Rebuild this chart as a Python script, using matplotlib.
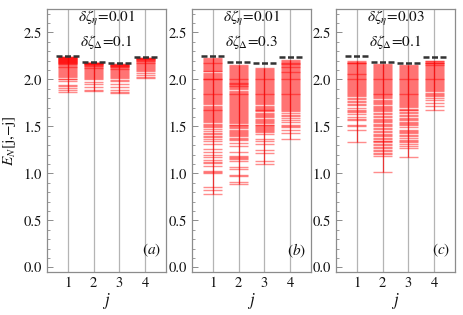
import matplotlib
matplotlib.use("Agg")
import matplotlib.pyplot as plt
from matplotlib.ticker import MultipleLocator

plt.rcParams['font.family'] = ['STIXGeneral', 'DejaVu Serif']
plt.rcParams['mathtext.fontset'] = 'stix'

# ---------------- data ----------------
j_values = [1, 2, 3, 4]
bound_values = [2.25, 2.19, 2.17, 2.24]   # black dashed reference levels
panel_labels = ['(a)', '(b)', '(c)']
eta_labels = ['0.01', '0.01', '0.03']
delta_labels = ['0.1', '0.3', '0.1']
ytick_labels = ['0.0', '0.5', '1.0', '1.5', '2.0', '2.5']
xtick_labels = ['1', '2', '3', '4']

# panel (a)
a_j1 = [2.24, 2.24, 2.235, 2.23, 2.23, 2.225, 2.22, 2.22, 2.215, 2.21, 2.21, 2.205, 2.20, 2.20,
        2.195, 2.19, 2.19, 2.185, 2.18, 2.18, 2.17, 2.165, 2.16, 2.15, 2.14, 2.135, 2.13, 2.12,
        2.11, 2.10, 2.09, 2.08, 2.07, 2.06, 2.05, 2.04, 2.03, 2.01, 2.00, 1.98, 1.94, 1.93,
        1.91, 1.89, 1.87]
a_j2 = [2.18, 2.18, 2.175, 2.17, 2.17, 2.165, 2.16, 2.16, 2.155, 2.15, 2.145, 2.14, 2.13,
        2.125, 2.12, 2.11, 2.10, 2.09, 2.08, 2.07, 2.06, 2.05, 2.04, 2.03, 2.02, 2.00, 1.97,
        1.95, 1.92, 1.89, 1.88]
a_j3 = [2.16, 2.16, 2.155, 2.15, 2.15, 2.145, 2.14, 2.14, 2.135, 2.13, 2.12, 2.115, 2.11,
        2.10, 2.09, 2.08, 2.07, 2.06, 2.05, 2.04, 2.03, 2.02, 1.99, 1.98, 1.95, 1.92, 1.89,
        1.87, 1.86]
a_j4 = [2.23, 2.23, 2.225, 2.22, 2.22, 2.215, 2.21, 2.205, 2.20, 2.195, 2.19, 2.18, 2.17,
        2.16, 2.15, 2.14, 2.13, 2.12, 2.11, 2.10, 2.09, 2.07, 2.05, 2.03, 2.02]

# panel (b)
b_j1 = [2.23, 2.22, 2.21, 2.20, 2.19, 2.18, 2.17, 2.16, 2.15, 2.14, 2.13, 2.12, 2.11, 2.10,
        2.09, 2.085, 2.07, 2.06, 2.05, 2.04, 2.03, 2.02, 2.01, 2.00, 2.00, 1.99, 1.98, 1.97,
        1.96, 1.95, 1.94, 1.93, 1.92, 1.91, 1.90, 1.89, 1.88, 1.87, 1.86, 1.85, 1.84, 1.83,
        1.82, 1.81, 1.80, 1.79, 1.78, 1.77, 1.76, 1.75, 1.74, 1.72, 1.71, 1.70, 1.69, 1.68,
        1.67, 1.66, 1.65, 1.64, 1.63, 1.62, 1.61, 1.60, 1.59, 1.58, 1.57, 1.56, 1.55, 1.53,
        1.52, 1.50, 1.49, 1.47, 1.45, 1.43, 1.42, 1.40, 1.39, 1.37, 1.35, 1.31, 1.26, 1.23,
        1.20, 1.17, 1.14, 1.12, 1.11, 1.08, 1.02, 1.01, 1.00, 0.85, 0.82, 0.78]
b_j2 = [2.15, 2.14, 2.13, 2.12, 2.11, 2.10, 2.09, 2.08, 2.07, 2.06, 2.05, 2.04, 2.03, 2.02,
        2.01, 2.00, 1.99, 1.98, 1.97, 1.965, 1.96, 1.955, 1.95, 1.94, 1.935, 1.93, 1.92, 1.91,
        1.90, 1.88, 1.87, 1.86, 1.85, 1.84, 1.83, 1.82, 1.81, 1.80, 1.79, 1.78, 1.77, 1.76,
        1.75, 1.74, 1.73, 1.72, 1.71, 1.70, 1.69, 1.68, 1.66, 1.65, 1.64, 1.63, 1.62, 1.61,
        1.60, 1.59, 1.58, 1.57, 1.56, 1.55, 1.54, 1.52, 1.51, 1.50, 1.49, 1.48, 1.46, 1.45,
        1.44, 1.43, 1.42, 1.41, 1.40, 1.38, 1.37, 1.36, 1.32, 1.29, 1.23, 1.19, 1.17, 1.16,
        1.15, 1.13, 1.07, 1.05, 0.98, 0.97, 0.91, 0.89]
b_j3 = [2.12, 2.11, 2.10, 2.09, 2.08, 2.07, 2.06, 2.05, 2.04, 2.03, 2.02, 2.01, 2.00, 1.99,
        1.98, 1.97, 1.96, 1.95, 1.94, 1.93, 1.92, 1.91, 1.90, 1.89, 1.88, 1.87, 1.86, 1.85,
        1.84, 1.83, 1.82, 1.81, 1.80, 1.79, 1.78, 1.77, 1.76, 1.75, 1.74, 1.72, 1.71, 1.70,
        1.69, 1.68, 1.67, 1.66, 1.64, 1.63, 1.62, 1.61, 1.60, 1.58, 1.57, 1.56, 1.55, 1.54,
        1.52, 1.51, 1.50, 1.49, 1.48, 1.47, 1.46, 1.45, 1.44, 1.42, 1.37, 1.35, 1.31, 1.25,
        1.22, 1.13, 1.10]
b_j4 = [2.21, 2.20, 2.19, 2.18, 2.17, 2.165, 2.16, 2.15, 2.14, 2.135, 2.13, 2.12, 2.11, 2.10,
        2.09, 2.08, 2.075, 2.07, 2.06, 2.05, 2.04, 2.03, 2.02, 2.01, 2.00, 1.99, 1.98, 1.97,
        1.96, 1.95, 1.94, 1.93, 1.92, 1.91, 1.90, 1.89, 1.88, 1.87, 1.86, 1.85, 1.84, 1.83,
        1.82, 1.81, 1.80, 1.79, 1.78, 1.77, 1.76, 1.75, 1.74, 1.73, 1.72, 1.71, 1.70, 1.69,
        1.68, 1.66, 1.64, 1.62, 1.61, 1.59, 1.57, 1.55, 1.52, 1.50, 1.49, 1.46, 1.43, 1.37]

# panel (c)
c_j1 = [2.20, 2.19, 2.18, 2.175, 2.17, 2.16, 2.15, 2.14, 2.13, 2.12, 2.11, 2.10, 2.09, 2.08,
        2.07, 2.06, 2.055, 2.05, 2.04, 2.03, 2.02, 2.01, 2.00, 1.99, 1.98, 1.97, 1.96, 1.95,
        1.94, 1.93, 1.92, 1.91, 1.90, 1.89, 1.88, 1.87, 1.86, 1.85, 1.83, 1.82, 1.80, 1.79,
        1.77, 1.76, 1.74, 1.73, 1.70, 1.68, 1.66, 1.65, 1.63, 1.60, 1.58, 1.57, 1.52, 1.50,
        1.46, 1.33]
c_j2 = [2.16, 2.15, 2.14, 2.13, 2.12, 2.11, 2.10, 2.09, 2.08, 2.07, 2.06, 2.05, 2.04, 2.03,
        2.02, 2.01, 2.00, 1.99, 1.98, 1.97, 1.96, 1.95, 1.94, 1.93, 1.92, 1.91, 1.90, 1.89,
        1.88, 1.87, 1.86, 1.85, 1.84, 1.83, 1.82, 1.81, 1.80, 1.78, 1.77, 1.76, 1.75, 1.74,
        1.72, 1.71, 1.70, 1.69, 1.67, 1.66, 1.64, 1.63, 1.61, 1.60, 1.58, 1.57, 1.56, 1.55,
        1.53, 1.51, 1.50, 1.48, 1.47, 1.45, 1.44, 1.42, 1.41, 1.40, 1.38, 1.37, 1.35, 1.34,
        1.33, 1.31, 1.30, 1.28, 1.27, 1.25, 1.24, 1.22, 1.21, 1.19, 1.01]
c_j3 = [2.15, 2.14, 2.13, 2.12, 2.11, 2.10, 2.09, 2.08, 2.07, 2.06, 2.05, 2.04, 2.03, 2.02,
        2.01, 2.00, 1.99, 1.98, 1.97, 1.96, 1.95, 1.94, 1.93, 1.92, 1.91, 1.90, 1.89, 1.88,
        1.87, 1.86, 1.85, 1.84, 1.83, 1.82, 1.81, 1.80, 1.79, 1.78, 1.77, 1.76, 1.75, 1.74,
        1.73, 1.72, 1.71, 1.69, 1.68, 1.67, 1.65, 1.64, 1.62, 1.61, 1.59, 1.58, 1.57, 1.55,
        1.54, 1.53, 1.51, 1.49, 1.46, 1.45, 1.44, 1.43, 1.41, 1.40, 1.38, 1.36, 1.35, 1.33,
        1.31, 1.29, 1.27, 1.17]
c_j4 = [2.20, 2.195, 2.19, 2.18, 2.175, 2.17, 2.16, 2.155, 2.15, 2.14, 2.13, 2.12, 2.11,
        2.10, 2.09, 2.08, 2.07, 2.06, 2.05, 2.04, 2.03, 2.02, 2.01, 2.00, 1.99, 1.98, 1.97,
        1.96, 1.95, 1.94, 1.93, 1.92, 1.91, 1.90, 1.89, 1.88, 1.86, 1.85, 1.83, 1.82, 1.80,
        1.78, 1.75, 1.72, 1.67]

panels = [[a_j1, a_j2, a_j3, a_j4],
          [b_j1, b_j2, b_j3, b_j4],
          [c_j1, c_j2, c_j3, c_j4]]

# ---------------- figure ----------------
fig = plt.figure(figsize=(4.63, 3.15), dpi=100)
lefts = [47 / 463, 192 / 463, 336 / 463]
width = 119 / 463
bottom = (315 - 272) / 315
height = 263 / 315

frame_col = '#8c8c8c'
for p, data in enumerate(panels):
    ax = fig.add_axes([lefts[p], bottom, width, height])
    for j, vals in zip(j_values, data):
        ax.axvline(j, color='#b4b4b4', lw=0.9, zorder=0)
        ax.hlines(vals, j - 0.37, j + 0.37, color='red', alpha=0.45, lw=1.0, zorder=1)
        ax.vlines(j, min(vals), max(vals), color='red', alpha=0.7, lw=0.9, zorder=2)
    for j, b in zip(j_values, bound_values):
        ax.plot([j - 0.45, j + 0.45], [b, b], color='#333333', lw=1.8,
                dashes=(2.4, 1.0), solid_capstyle='butt', zorder=3)

    ax.set_xlim(0.2, 4.8)
    ax.set_ylim(-0.05, 2.75)
    ax.set_xticks(j_values)
    ax.set_xticklabels(xtick_labels)
    ax.set_yticks([0.0, 0.5, 1.0, 1.5, 2.0, 2.5])
    ax.set_yticklabels(ytick_labels)
    ax.yaxis.set_minor_locator(MultipleLocator(0.1))
    ax.tick_params(axis='both', which='both', direction='in', colors=frame_col,
                   labelcolor='#111111', labelsize=10.5, top=False, right=False)
    ax.tick_params(axis='y', which='major', length=4, width=0.7)
    ax.tick_params(axis='y', which='minor', length=2, width=0.6)
    ax.tick_params(axis='x', which='major', length=0, pad=3)
    for s in ax.spines.values():
        s.set_color(frame_col)
        s.set_linewidth(0.9)

    ax.text(0.5, 2.65, r'$\delta\zeta_{\eta}$=' + eta_labels[p], transform=ax.get_yaxis_transform(),
            ha='center', va='center', fontsize=11, color='#111111')
    ax.text(0.5, 2.40, r'$\delta\zeta_{\Delta}$=' + delta_labels[p], transform=ax.get_yaxis_transform(),
            ha='center', va='center', fontsize=11, color='#111111')
    ax.text(0.96, 0.081, r'$($' + r'$' + panel_labels[p][1] + r'$' + r'$)$',
            transform=ax.transAxes, ha='right', va='center', fontsize=11, color='#111111')
    ax.set_xlabel(r'$j$', fontsize=12, labelpad=1, color='#111111')
    if p == 0:
        ax.set_ylabel(r'$E_N$[j,$-$j]', fontsize=11, labelpad=4, color='#111111')

fig.savefig('out.png', dpi=100)
